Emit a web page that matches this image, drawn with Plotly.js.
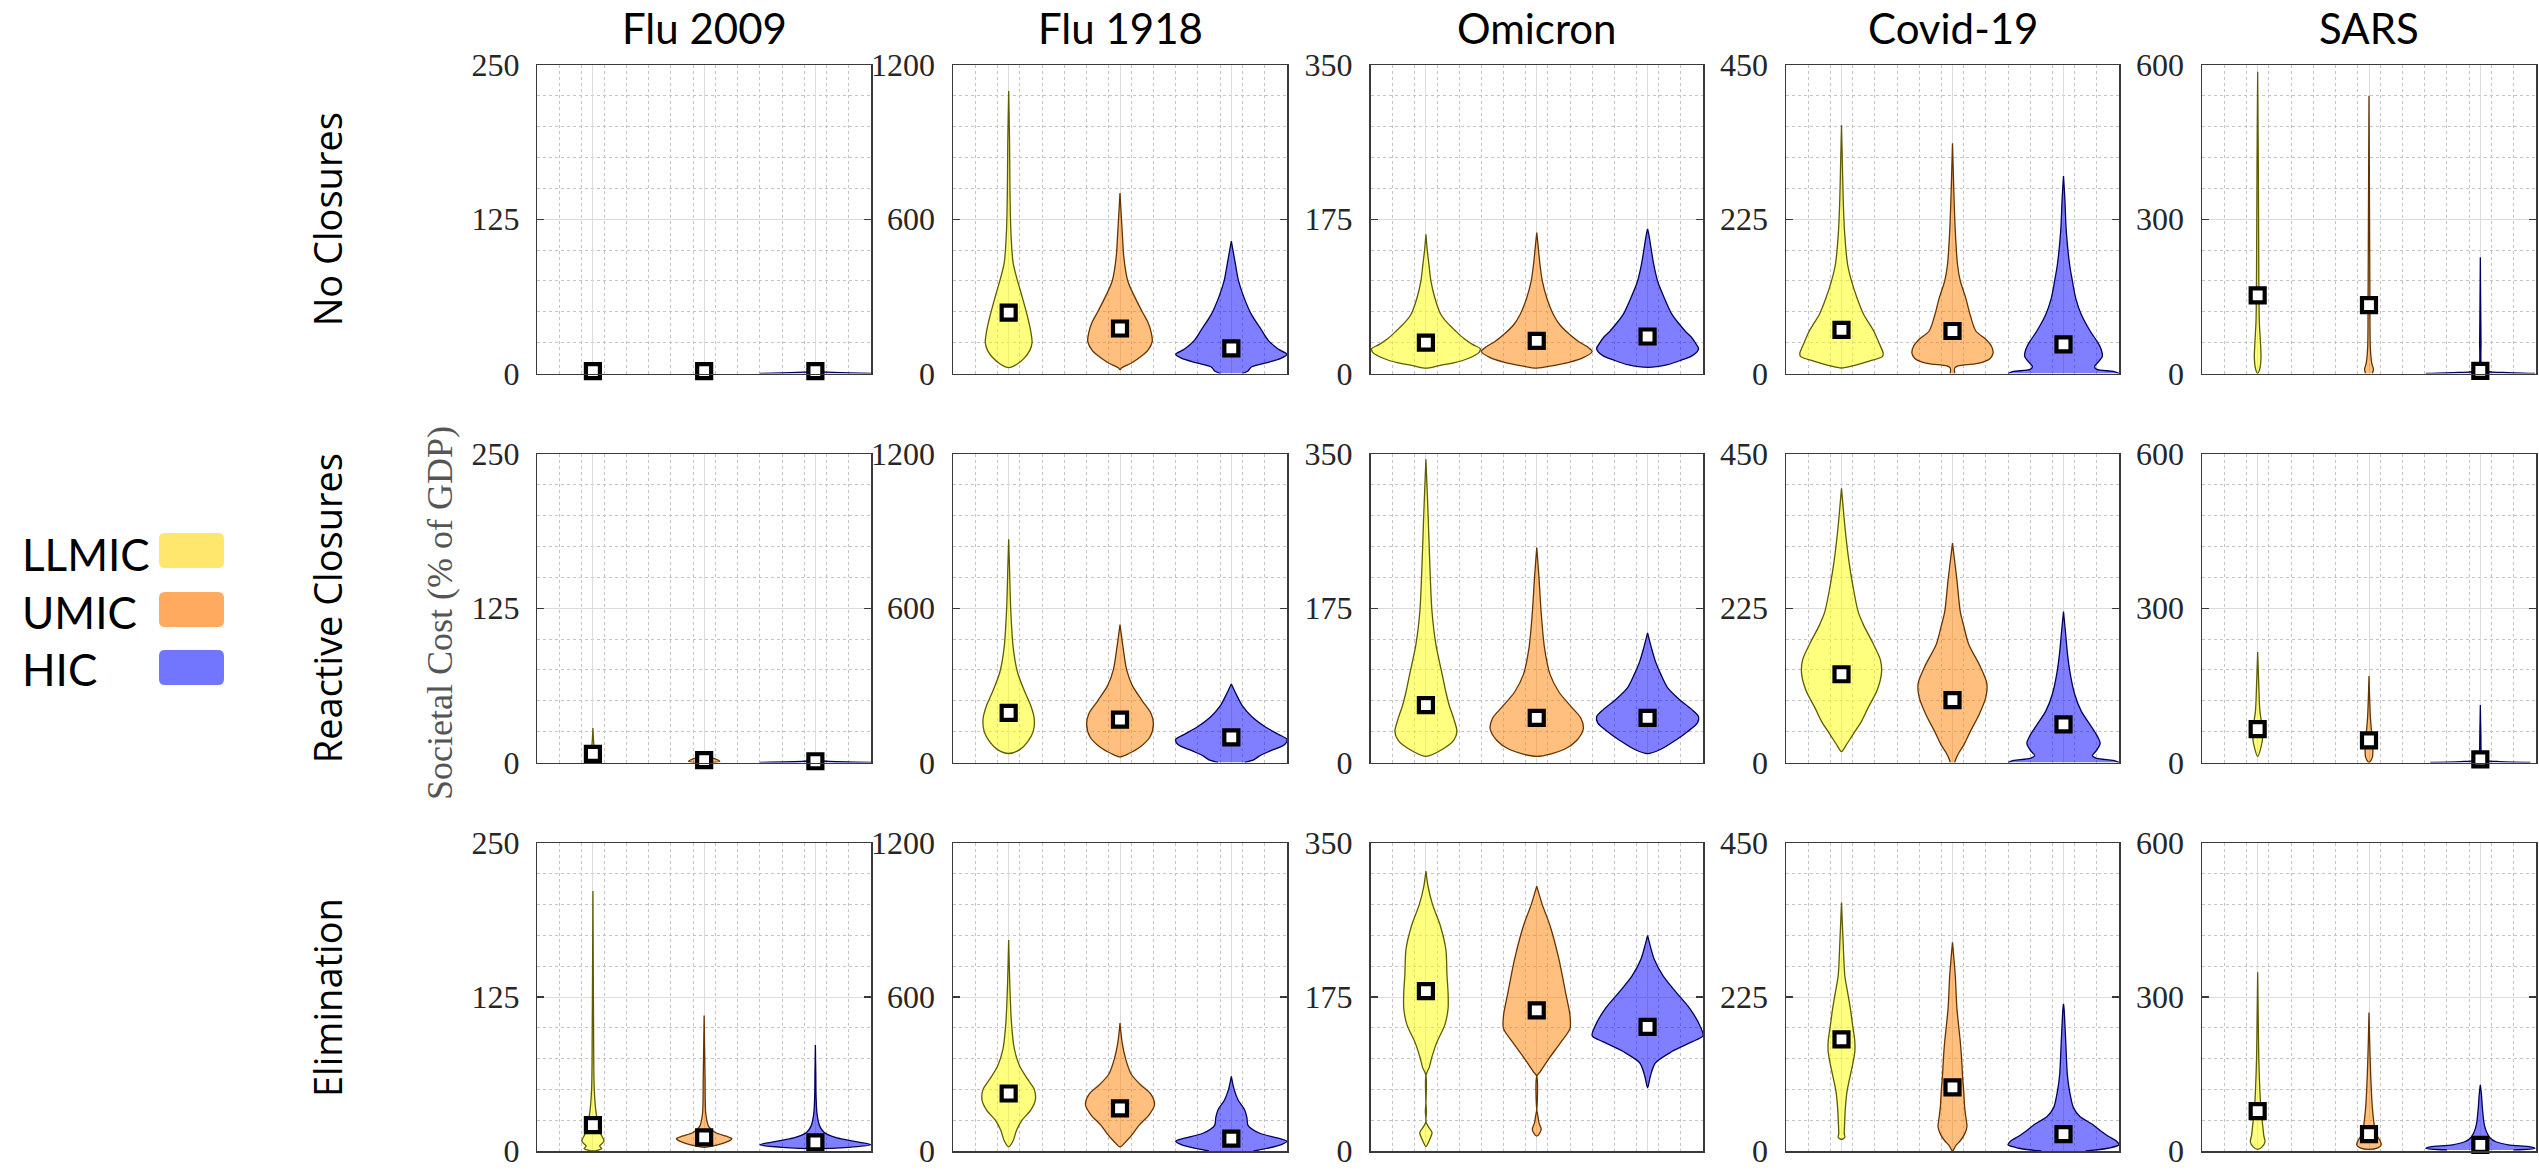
<!DOCTYPE html>
<html><head><meta charset="utf-8">
<script src="https://cdn.plot.ly/plotly-3.0.1.min.js"></script>
<style>html,body{margin:0;padding:0;background:#fff}#chart{width:2539px;height:1170px}</style>
</head><body><div id="chart"></div>
<script>
// ---------------- DATA ----------------
const diseases = ['Flu 2009', 'Flu 1918', 'Omicron', 'Covid-19', 'SARS'];
const strategies = ['No Closures', 'Reactive Closures', 'Elimination'];
const groups = ['LLMIC', 'UMIC', 'HIC'];
const yMax = [250, 1200, 350, 450, 600];
const yTickLabels = [['0','125','250'], ['0','600','1200'], ['0','175','350'], ['0','225','450'], ['0','300','600']];
const yAxisTitle = 'Societal Cost (% of GDP)';

// Violin outlines: [value (% of GDP), half-width of the density (x units)], per group LLMIC, UMIC, HIC
// ---- No Closures
const nc_flu2009 = [
  [[0,0],[1,0.04],[3,0.03],[5,0]],
  [[0,0],[1,0.04],[3,0.03],[5,0]],
  [[0,0.5],[0.5,0.3],[1.5,0]]
];
const nc_flu2009_mean = [2, 2, 2];
const nc_flu1918 = [
  [[23,0],[35,0.07],[60,0.14],[90,0.19],[120,0.21],[160,0.2],[220,0.17],[300,0.12],[360,0.08],[430,0.04],[550,0.02],[700,0.012],[900,0.008],[1099,0]],
  [[15,0],[22,0.015],[40,0.1],[60,0.17],[90,0.25],[125,0.29],[160,0.28],[200,0.25],[240,0.2],[300,0.13],[360,0.07],[450,0.035],[550,0.02],[702,0]],
  [[0,0.1],[10,0.15],[25,0.18],[40,0.3],[60,0.45],[75,0.5],[95,0.42],[130,0.33],[170,0.27],[230,0.18],[300,0.11],[360,0.065],[430,0.035],[515,0]]
];
const nc_flu1918_mean = [237, 175, 98];
const nc_omicron = [
  [[6,0],[9,0.12],[12,0.25],[17,0.38],[24,0.48],[28,0.49],[33,0.42],[40,0.34],[48,0.27],[58,0.19],[67,0.135],[86,0.08],[105,0.045],[124,0.027],[140,0.012],[158,0]],
  [[6,0],[9,0.15],[13,0.3],[18,0.42],[25,0.5],[30,0.46],[36,0.38],[45,0.29],[55,0.21],[67,0.15],[86,0.09],[105,0.05],[125,0.028],[145,0.012],[160,0]],
  [[7,0],[10,0.18],[15,0.3],[20,0.4],[28,0.46],[35,0.43],[42,0.39],[48,0.34],[57,0.28],[67,0.22],[86,0.15],[105,0.09],[124,0.055],[143,0.03],[155,0.015],[164,0]]
];
const nc_omicron_mean = [35, 37, 42];
const nc_covid = [
  [[8,0],[12,0.12],[18,0.25],[25,0.37],[30,0.375],[40,0.35],[62,0.29],[86,0.2],[110,0.14],[135,0.09],[159,0.055],[208,0.027],[256,0.015],[305,0.008],[362,0]],
  [[0,0.02],[8,0.02],[11,0.05],[14,0.2],[17,0.28],[22,0.34],[30,0.366],[40,0.35],[50,0.3],[62,0.21],[85,0.16],[110,0.12],[135,0.07],[159,0.045],[208,0.025],[260,0.013],[300,0.006],[336,0]],
  [[0,0.5],[3,0.45],[6,0.3],[10,0.28],[18,0.32],[25,0.35],[35,0.34],[45,0.31],[62,0.24],[86,0.16],[110,0.11],[135,0.08],[159,0.055],[208,0.025],[256,0.012],[288,0]]
];
const nc_covid_mean = [63.6, 62, 42.6];
const nc_sars = [
  [[0,0],[10,0.02],[30,0.03],[60,0.025],[100,0.015],[200,0.01],[400,0.006],[587,0]],
  [[0,0.03],[8,0.04],[20,0.025],[50,0.012],[150,0.008],[300,0.005],[540,0]],
  [[0,0.49],[2,0.2],[5,0.04],[15,0.01],[60,0.006],[226,0]]
];
const nc_sars_mean = [152, 133, 5];
// ---- Reactive Closures
const rc_flu2009 = [
  [[0,0],[2,0.03],[8,0.02],[15,0.008],[28,0]],
  [[0,0],[1,0.14],[3,0.1],[5,0]],
  [[0,0.5],[1,0.1],[2,0]]
];
const rc_flu2009_mean = [7, 2, 1];
const rc_flu1918 = [
  [[35,0],[50,0.1],[80,0.17],[120,0.22],[170,0.23],[220,0.2],[280,0.14],[350,0.08],[450,0.04],[600,0.018],[750,0.008],[868,0]],
  [[22,0],[35,0.08],[60,0.18],[100,0.27],[150,0.3],[190,0.28],[240,0.2],[300,0.11],[360,0.06],[440,0.03],[536,0]],
  [[0,0.12],[10,0.2],[25,0.25],[45,0.35],[70,0.48],[90,0.5],[110,0.42],[140,0.3],[180,0.18],[220,0.1],[260,0.05],[305,0]]
];
const rc_flu1918_mean = [193, 167, 98];
const rc_omicron = [
  [[7,0],[15,0.15],[25,0.25],[35,0.28],[50,0.25],[65,0.21],[80,0.18],[98,0.15],[134,0.09],[171,0.055],[225,0.035],[280,0.02],[344,0]],
  [[7,0],[15,0.25],[25,0.36],[38,0.42],[50,0.4],[62,0.32],[80,0.2],[100,0.12],[130,0.07],[170,0.04],[210,0.02],[244,0]],
  [[10,0],[15,0.12],[25,0.25],[35,0.36],[45,0.45],[52,0.46],[60,0.4],[70,0.3],[85,0.18],[100,0.12],[115,0.07],[130,0.035],[147,0]]
];
const rc_omicron_mean = [65, 50.6, 50.6];
const rc_covid = [
  [[16,0],[25,0.04],[35,0.08],[45,0.12],[60,0.18],[80,0.24],[105,0.32],[130,0.36],[150,0.35],[175,0.28],[200,0.2],[220,0.15],[260,0.1],[290,0.07],[337,0.035],[400,0]],
  [[0,0.02],[5,0.03],[15,0.06],[25,0.1],[45,0.16],[70,0.24],[95,0.3],[115,0.31],[140,0.25],[173,0.145],[200,0.1],[220,0.07],[266,0.04],[320,0]],
  [[0,0.5],[3,0.45],[6,0.3],[10,0.26],[18,0.3],[28,0.33],[40,0.3],[55,0.24],[75,0.16],[100,0.1],[130,0.06],[160,0.035],[190,0.018],[220,0]]
];
const rc_covid_mean = [128.7, 91, 55.6];
const rc_sars = [
  [[12,0],[30,0.03],[50,0.045],[70,0.04],[100,0.02],[150,0.01],[215,0]],
  [[0,0],[10,0.03],[30,0.035],[55,0.025],[90,0.012],[168,0]],
  [[0,0.45],[2,0.15],[5,0.03],[15,0.01],[50,0.005],[112,0]]
];
const rc_sars_mean = [65, 43, 6];
// ---- Elimination
const el_flu2009 = [
  [[0,0],[2,0.08],[4,0.06],[8,0.1],[14,0.07],[22,0.05],[30,0.03],[50,0.012],[100,0.006],[211,0]],
  [[3,0],[5,0.12],[8,0.22],[10,0.25],[12,0.2],[15,0.1],[20,0.04],[30,0.015],[60,0.008],[110,0]],
  [[2,0],[3,0.3],[5,0.5],[7,0.4],[9,0.28],[11,0.18],[15,0.08],[20,0.04],[30,0.015],[45,0.006],[60,0.004],[86,0]]
];
const el_flu2009_mean = [21, 11, 7];
const el_flu1918 = [
  [[16,0],[40,0.04],[80,0.07],[120,0.12],[160,0.2],[200,0.24],[240,0.23],[280,0.17],[330,0.1],[400,0.05],[500,0.025],[650,0.01],[822,0]],
  [[16,0],[40,0.06],[70,0.12],[100,0.17],[140,0.26],[180,0.31],[220,0.28],[260,0.18],[300,0.1],[360,0.05],[420,0.02],[498,0]],
  [[0,0.2],[10,0.32],[25,0.45],[38,0.5],[50,0.42],[70,0.25],[100,0.15],[130,0.14],[160,0.12],[200,0.06],[240,0.025],[291,0]]
];
const el_flu1918_mean = [224, 166, 48];
const el_omicron = [
  [[5,0],[12,0.03],[21,0.055],[28,0.02],[33,0],[45,0.005],[55,0],[86,0],[95,0.03],[105,0.05],[124,0.1],[143,0.17],[162,0.2],[180,0.2],[200,0.19],[229,0.18],[256,0.13],[280,0.06],[300,0.02],[318,0]],
  [[17,0],[21,0.03],[25,0.04],[32,0.02],[40,0.01],[47,0],[85,0],[90,0.03],[105,0.11],[124,0.22],[139,0.3],[154,0.3],[180,0.26],[218,0.2],[256,0.12],[280,0.05],[301,0]],
  [[72,0],[85,0.025],[100,0.07],[113,0.22],[124,0.4],[131,0.5],[143,0.47],[162,0.38],[180,0.26],[199,0.14],[218,0.06],[235,0.02],[245,0]]
];
const el_omicron_mean = [181.7, 159.8, 141];
const el_covid = [
  [[17,0],[20,0.03],[25,0.025],[40,0.028],[63,0.035],[87,0.05],[111,0.08],[126,0.1],[145,0.12],[160,0.12],[184,0.1],[208,0.08],[232,0.055],[256,0.03],[304,0.015],[363,0]],
  [[0,0],[8,0.03],[15,0.07],[25,0.11],[35,0.13],[50,0.12],[63,0.11],[90,0.1],[111,0.09],[140,0.08],[160,0.07],[208,0.04],[256,0.025],[305,0]],
  [[0,0.2],[4,0.4],[9,0.5],[14,0.48],[22,0.4],[30,0.33],[39,0.26],[50,0.15],[63,0.09],[87,0.055],[111,0.035],[160,0.02],[208,0.005],[215,0]]
];
const el_covid_mean = [163, 93, 24.6];
const el_sars = [
  [[3,0],[8,0.04],[18,0.066],[30,0.055],[50,0.045],[80,0.03],[116,0.02],[180,0.01],[260,0.005],[348,0]],
  [[3,0],[6,0.08],[12,0.11],[20,0.1],[30,0.07],[47,0.05],[85,0.03],[149,0.015],[213,0.006],[270,0]],
  [[2,0.3],[5,0.49],[8,0.45],[12,0.25],[18,0.14],[25,0.09],[35,0.06],[52,0.035],[85,0.018],[110,0.01],[129,0]]
];
const el_sars_mean = [77.8, 32.8, 12];

// table built from the named arrays
const panelViolins = [
  [nc_flu2009, nc_flu1918, nc_omicron, nc_covid, nc_sars],
  [rc_flu2009, rc_flu1918, rc_omicron, rc_covid, rc_sars],
  [el_flu2009, el_flu1918, el_omicron, el_covid, el_sars]
];
const panelMeans = [
  [nc_flu2009_mean, nc_flu1918_mean, nc_omicron_mean, nc_covid_mean, nc_sars_mean],
  [rc_flu2009_mean, rc_flu1918_mean, rc_omicron_mean, rc_covid_mean, rc_sars_mean],
  [el_flu2009_mean, el_flu1918_mean, el_omicron_mean, el_covid_mean, el_sars_mean]
];

// ---------------- STYLE / LAYOUT ----------------
const W = 2539, H = 1170;
const colPx = [[537.3, 871], [953, 1287], [1370.5, 1703], [1786, 2119], [2202, 2536]];
const rowPx = [[65, 373.5], [454, 762.5], [843, 1151]];
const fillCol = ['rgba(255,255,0,0.5)', 'rgba(255,128,0,0.5)', 'rgba(0,0,255,0.5)'];
const edgeCol = ['#5c5c00', '#663300', '#00005c'];
const swatchCol = ['#FFE66C', '#FFAA5E', '#7276FF'];

const traces = [];
const layout = {
  width: W, height: H,
  margin: {l: 0, r: 0, t: 0, b: 0},
  paper_bgcolor: '#fff', plot_bgcolor: '#fff',
  showlegend: false,
  annotations: [], shapes: []
};

const xMinor = [];
for (let v = 0.7; v < 3.45; v += 0.2) { const r = Math.round(v * 10) / 10; if (Math.abs(r - Math.round(r)) > 1e-6) xMinor.push(r); }

for (let r = 0; r < 3; r++) {
  for (let c = 0; c < 5; c++) {
    const k = r * 5 + c + 1;
    const xa = 'xaxis' + (k === 1 ? '' : k), ya = 'yaxis' + (k === 1 ? '' : k);
    const xr = 'x' + (k === 1 ? '' : k), yr = 'y' + (k === 1 ? '' : k);
    const ym = yMax[c];
    const yMinor = [];
    for (let i = 1; i < 10; i++) if (i !== 5) yMinor.push(ym * i / 10);
    layout[xa] = {
      domain: [colPx[c][0] / W, colPx[c][1] / W], anchor: yr,
      range: [0.5, 3.5], tickmode: 'array', tickvals: [1, 2, 3], showticklabels: false,
      ticks: '', showgrid: true, gridcolor: '#dcdcdc', gridwidth: 1, zeroline: false,
      showline: true, mirror: true, linecolor: '#3a3a3a', linewidth: 1.5,
      minor: {tickmode: 'array', tickvals: xMinor, showgrid: true, gridcolor: '#c4c4c4', griddash: 'dot', gridwidth: 1, ticks: ''},
      fixedrange: true
    };
    layout[ya] = {
      domain: [1 - rowPx[r][1] / H, 1 - rowPx[r][0] / H], anchor: xr,
      range: [0, ym], tickmode: 'array', tickvals: [0, ym / 2, ym], ticktext: yTickLabels[c],
      ticks: 'inside', ticklen: 7, tickcolor: '#3a3a3a', tickwidth: 1.2,
      ticklabelstandoff: 10, ticklabeloverflow: 'allow',
      tickfont: {family: 'Liberation Serif, Times New Roman, serif', size: 32, color: '#262626'},
      showgrid: true, gridcolor: '#dcdcdc', gridwidth: 1, zeroline: false,
      showline: true, mirror: 'ticks', linecolor: '#3a3a3a', linewidth: 1.5,
      minor: {tickmode: 'array', tickvals: yMinor, showgrid: true, gridcolor: '#c4c4c4', griddash: 'dot', gridwidth: 1, ticks: ''},
      fixedrange: true
    };
    const prof = panelViolins[r][c];
    for (let g = 0; g < 3; g++) {
      const p = prof[g];
      const cx = g + 1;
      const xs = [], ys = [];
      for (let i = 0; i < p.length; i++) { xs.push(cx + p[i][1]); ys.push(p[i][0]); }
      for (let i = p.length - 1; i >= 0; i--) { xs.push(cx - p[i][1]); ys.push(p[i][0]); }
      traces.push({
        type: 'scatter', mode: 'lines', x: xs, y: ys, xaxis: xr, yaxis: yr,
        fill: 'toself', fillcolor: fillCol[g],
        line: {color: edgeCol[g], width: 1.3, shape: 'spline', smoothing: 0.8},
        hoverinfo: 'skip', name: groups[g]
      });
    }
    traces.push({
      type: 'scatter', mode: 'markers', x: [1, 2, 3], y: panelMeans[r][c], xaxis: xr, yaxis: yr,
      cliponaxis: false,
      marker: {symbol: 'square', size: 14, color: '#ffffff', line: {color: '#000', width: 4.2}},
      hoverinfo: 'skip', name: 'mean'
    });
  }
}

// column titles
for (let c = 0; c < 5; c++) {
  layout.annotations.push({
    text: diseases[c], xref: 'paper', yref: 'paper',
    x: (colPx[c][0] + colPx[c][1]) / 2 / W, y: 1 - 28 / H,
    xanchor: 'center', yanchor: 'middle', showarrow: false,
    font: {family: 'Lato, Open Sans, sans-serif', size: 42, color: '#000'}
  });
}
// row labels
for (let r = 0; r < 3; r++) {
  layout.annotations.push({
    text: strategies[r], xref: 'paper', yref: 'paper', textangle: -90,
    x: 327 / W, y: 1 - (rowPx[r][0] + rowPx[r][1]) / 2 / H,
    xanchor: 'center', yanchor: 'middle', showarrow: false,
    font: {family: 'Open Sans, sans-serif', size: 38, color: '#000'}
  });
}
// y-axis title
layout.annotations.push({
  text: yAxisTitle, xref: 'paper', yref: 'paper', textangle: -90,
  x: 440 / W, y: 1 - 613 / H, xanchor: 'center', yanchor: 'middle', showarrow: false,
  font: {family: 'Liberation Serif, Times New Roman, serif', size: 36, color: '#555'}
});
// legend
const legY = [554, 612, 669];
const swTop = [533, 592, 650];
function roundRect(x0, y0, x1, y1, rad) {
  const X = v => (v / W).toFixed(5), Y = v => (1 - v / H).toFixed(5);
  return 'M' + X(x0 + rad) + ',' + Y(y0) + ' L' + X(x1 - rad) + ',' + Y(y0) +
    ' Q' + X(x1) + ',' + Y(y0) + ' ' + X(x1) + ',' + Y(y0 + rad) +
    ' L' + X(x1) + ',' + Y(y1 - rad) + ' Q' + X(x1) + ',' + Y(y1) + ' ' + X(x1 - rad) + ',' + Y(y1) +
    ' L' + X(x0 + rad) + ',' + Y(y1) + ' Q' + X(x0) + ',' + Y(y1) + ' ' + X(x0) + ',' + Y(y1 - rad) +
    ' L' + X(x0) + ',' + Y(y0 + rad) + ' Q' + X(x0) + ',' + Y(y0) + ' ' + X(x0 + rad) + ',' + Y(y0) + ' Z';
}
for (let g = 0; g < 3; g++) {
  layout.annotations.push({
    text: groups[g], xref: 'paper', yref: 'paper', x: 20 / W, y: 1 - legY[g] / H,
    xanchor: 'left', yanchor: 'middle', showarrow: false,
    font: {family: 'Lato, Open Sans, sans-serif', size: 44, color: '#000'}
  });
  layout.shapes.push({
    type: 'path', xref: 'paper', yref: 'paper',
    path: roundRect(159, swTop[g], 224, swTop[g] + 35, 6),
    fillcolor: swatchCol[g], line: {width: 0}
  });
}

Plotly.newPlot('chart', traces, layout, {staticPlot: true, displayModeBar: false});
</script>
</body></html>
